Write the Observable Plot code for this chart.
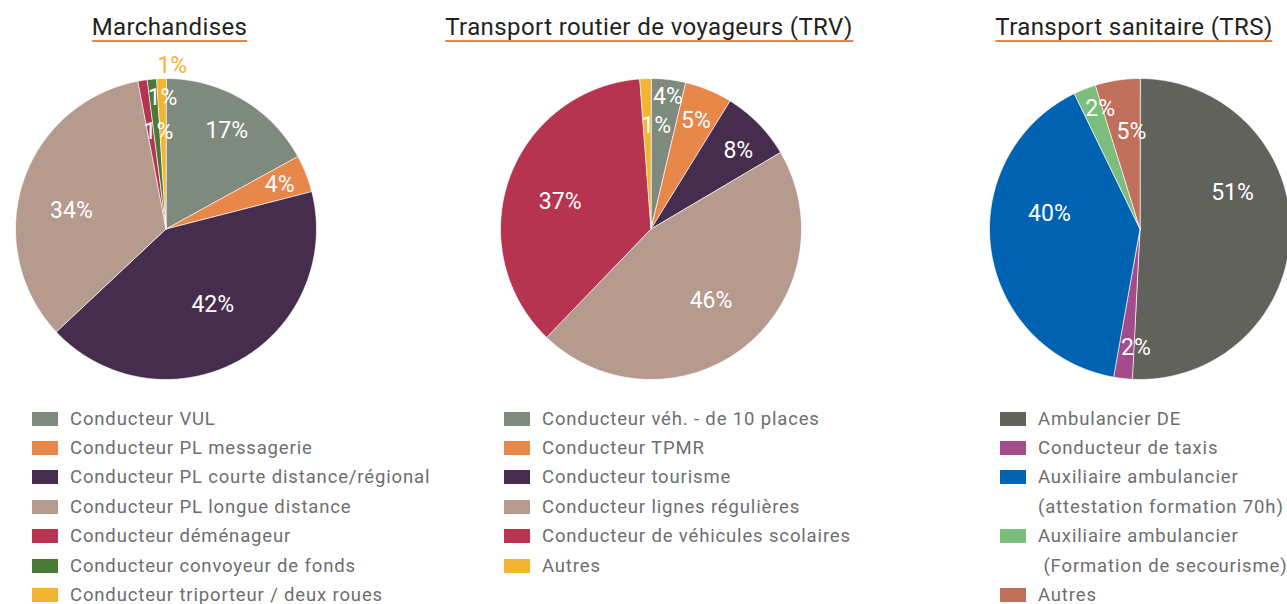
<!DOCTYPE html>
<html><head><meta charset="utf-8">
<script src="https://cdn.jsdelivr.net/npm/d3@7"></script>
<script src="https://cdn.jsdelivr.net/npm/@observablehq/plot@0.6"></script>
<style>
body{margin:0;width:1287px;height:604px;overflow:hidden;background:#fff;font-family:Roboto,"DejaVu Sans",sans-serif;}
#root{position:relative;width:1287px;height:604px;overflow:hidden;}
.title{position:absolute;top:15px;font-size:24px;line-height:24px;color:#231f20;transform:translateX(-50%);white-space:nowrap;letter-spacing:0.4px;}
.title span{display:inline-block;border-bottom:2px solid #e8864a;padding-bottom:1px;}
.pie{position:absolute;top:48px;width:361px;height:361px;}
.pie svg{max-width:none !important;}
.legend{position:absolute;top:404px;width:400px;}
.row{height:29.4px;display:flex;align-items:center;font-size:18.5px;color:#6d6e70;white-space:pre;letter-spacing:0.85px;}
.sw{width:26px;height:14px;flex:none;}
</style></head>
<body><div id="root"></div>
<script>
// ---------- DATA ----------
const titles = ["Marchandises", "Transport routier de voyageurs (TRV)", "Transport sanitaire (TRS)"];

const marchCategories = ["Conducteur VUL", "Conducteur PL messagerie", "Conducteur PL courte distance/régional", "Conducteur PL longue distance", "Conducteur déménageur", "Conducteur convoyeur de fonds", "Conducteur triporteur / deux roues"];
const marchValues = [17, 4, 42, 34, 1, 1, 1];

const trvCategories = ["Conducteur véh. - de 10 places", "Conducteur TPMR", "Conducteur tourisme", "Conducteur lignes régulières", "Conducteur de véhicules scolaires", "Autres"];
const trvValues = [3.7, 5.1, 7.7, 45.7, 36.6, 1.2];

const trsCategories = ["Ambulancier DE", "Conducteur de taxis", "Auxiliaire ambulancier\n(attestation formation 70h)", "Auxiliaire ambulancier\n (Formation de secourisme)", "Autres"];
const trsValues = [50.8, 2.0, 40.0, 2.4, 4.8];

// ---------- STYLE / LAYOUT ----------
const marchColors = ["#7e8a7e", "#e8874a", "#472d4d", "#b59a8d", "#b63450", "#4a7a35", "#f2b431"];
const trvColors = ["#7e8a7e", "#e8874a", "#472d4d", "#b59a8d", "#b63450", "#f2b431"];
const trsColors = ["#62625c", "#a44b8b", "#0063b1", "#7cbd7e", "#c06f5a"];

// label placement: [radius fraction, angle nudge in degrees, outside?]
const marchLabelLayout = [[0.77, 1, 0], [0.81, 0.5, 0], [0.59, -3, 0], [0.64, -7, 0], [0.65, 4.6, 0], [0.87, 3.9, 0], [1.087, 4, 1]];
const trvLabelLayout = [[0.89, 0.6, 0], [0.78, 0, 0], [0.78, 2.5, 0], [0.62, -1.7, 0], [0.63, -3.1, 0], [0.69, 5, 0]];
const trsLabelLayout = [[0.66, -22.8, 0], [0.79, -4.5, 0], [0.61, 17.4, 0], [0.84, 3.2, 0], [0.65, 3.6, 0]];

const pieCenters = [165.5, 650.5, 1139.5];
const titleCenters = [169.5, 649, 1134];
const legendLefts = [32, 504, 1000];

const FONT = "Roboto, 'DejaVu Sans', sans-serif";
const R = 150.5, M = 30;

function pieChart(cats, vals, colors, layout) {
  const arcs = d3.pie().sort(null).value(d => d)(vals);
  const poly = [];
  arcs.forEach((a, i) => {
    poly.push({cat: cats[i], x: 0, y: 0});
    const n = Math.max(2, Math.ceil((a.endAngle - a.startAngle) / (Math.PI / 180)));
    for (let k = 0; k <= n; k++) {
      const t = a.startAngle + (a.endAngle - a.startAngle) * k / n;
      poly.push({cat: cats[i], x: Math.sin(t), y: Math.cos(t)});
    }
  });
  const total = d3.sum(vals);
  const labels = arcs.map((a, i) => {
    const [rf, nudge, out] = layout[i];
    const t = (a.startAngle + a.endAngle) / 2 + nudge * Math.PI / 180;
    return {cat: cats[i], x: rf * Math.sin(t), y: rf * Math.cos(t), text: Math.round(vals[i] / total * 100) + "%", out};
  });
  const size = 2 * R + 2 * M;
  return Plot.plot({
    width: size, height: size, margin: M,
    x: {domain: [-1, 1], axis: null},
    y: {domain: [-1, 1], axis: null},
    color: {domain: cats, range: colors},
    style: {overflow: "visible", background: "transparent", maxWidth: "none"},
    marks: [
      Plot.line(poly, {x: "x", y: "y", z: "cat", fill: "cat", stroke: "white", strokeWidth: 0.7, curve: "linear-closed"}),
      Plot.text(labels.filter(d => !d.out), {x: "x", y: "y", text: "text", fill: "white", fontSize: 23, fontFamily: FONT}),
      Plot.text(labels.filter(d => d.out), {x: "x", y: "y", text: "text", fill: "cat", fontSize: 23, fontFamily: FONT})
    ]
  });
}

const root = document.getElementById("root");
const sets = [
  [marchCategories, marchValues, marchColors, marchLabelLayout],
  [trvCategories, trvValues, trvColors, trvLabelLayout],
  [trsCategories, trsValues, trsColors, trsLabelLayout]
];
sets.forEach(([cats, vals, cols, layout], k) => {
  const t = document.createElement("div");
  t.className = "title";
  t.style.left = titleCenters[k] + "px";
  const sp = document.createElement("span");
  sp.textContent = titles[k];
  t.appendChild(sp);
  root.appendChild(t);

  const w = document.createElement("div");
  w.className = "pie";
  w.style.left = (pieCenters[k] - R - M) + "px";
  w.appendChild(pieChart(cats, vals, cols, layout));
  root.appendChild(w);

  const lg = document.createElement("div");
  lg.className = "legend";
  lg.style.left = legendLefts[k] + "px";
  cats.forEach((c, i) => {
    c.split("\n").forEach((line, j) => {
      const row = document.createElement("div");
      row.className = "row";
      const sw = document.createElement("div");
      sw.className = "sw";
      sw.style.background = j === 0 ? cols[i] : "transparent";
      sw.style.marginRight = "12px";
      row.appendChild(sw);
      const tx = document.createElement("span");
      tx.textContent = line;
      row.appendChild(tx);
      lg.appendChild(row);
    });
  });
  root.appendChild(lg);
});
</script></body></html>
